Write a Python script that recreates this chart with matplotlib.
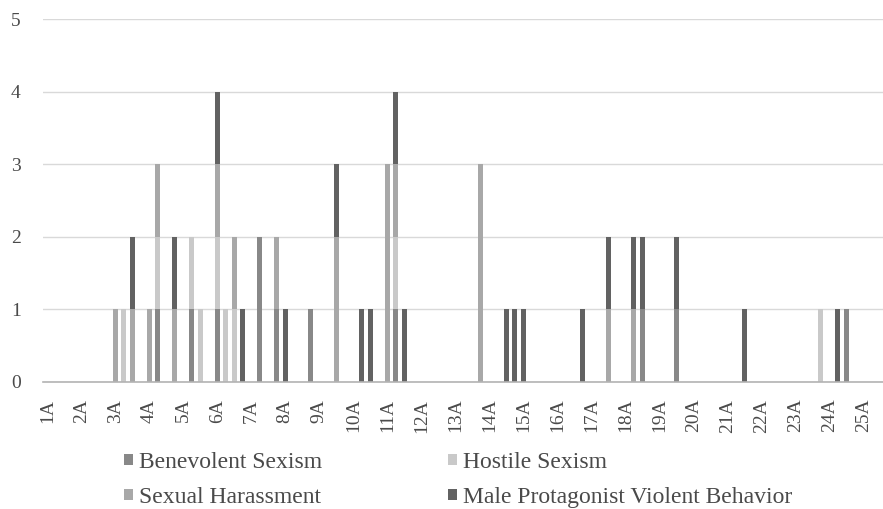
import numpy as np
import matplotlib
matplotlib.use('Agg')
import matplotlib.pyplot as plt
from matplotlib.patches import Patch

# --- Data: 25 episodes x 4 scenes (A-D), only every 4th label shown ---
episodes = list(range(1, 26))
scenes = ['A', 'B', 'C', 'D']
categories = [f'{e}{s}' for e in episodes for s in scenes]
shown_labels = [f'{e}A' for e in episodes]

benevolent = [0, 0, 0, 0, 0, 0, 0, 0, 0, 0, 0, 0, 0, 1, 0, 0, 0, 1, 0, 0,
              1, 0, 0, 0, 0, 2, 0, 1, 0, 0, 0, 1, 0, 0, 0, 0, 0, 0, 0, 0,
              0, 1, 0, 0, 0, 0, 0, 0, 0, 0, 0, 0, 0, 0, 0, 0, 0, 0, 0, 0,
              0, 0, 0, 0, 0, 0, 0, 0, 0, 0, 1, 0, 0, 0, 1, 0, 0, 0, 0, 0,
              0, 0, 0, 0, 0, 0, 0, 0, 0, 0, 0, 0, 0, 0, 1, 0, 0, 0, 0, 0]
hostile = [0, 0, 0, 0, 0, 0, 0, 0, 0, 1, 0, 0, 0, 1, 0, 0, 0, 1, 1, 0,
           1, 1, 1, 0, 0, 0, 0, 0, 0, 0, 0, 0, 0, 0, 0, 0, 0, 0, 0, 0,
           0, 1, 0, 0, 0, 0, 0, 0, 0, 0, 0, 0, 0, 0, 0, 0, 0, 0, 0, 0,
           0, 0, 0, 0, 0, 0, 0, 0, 0, 0, 0, 0, 0, 0, 0, 0, 0, 0, 0, 0,
           0, 0, 0, 0, 0, 0, 0, 0, 0, 0, 0, 1, 0, 0, 0, 0, 0, 0, 0, 0]
harassment = [0, 0, 0, 0, 0, 0, 0, 0, 1, 0, 1, 0, 1, 1, 0, 1, 0, 0, 0, 0,
              1, 0, 1, 0, 0, 0, 0, 1, 0, 0, 0, 0, 0, 0, 2, 0, 0, 0, 0, 0,
              3, 1, 0, 0, 0, 0, 0, 0, 0, 0, 0, 3, 0, 0, 0, 0, 0, 0, 0, 0,
              0, 0, 0, 0, 0, 0, 1, 0, 0, 1, 0, 0, 0, 0, 0, 0, 0, 0, 0, 0,
              0, 0, 0, 0, 0, 0, 0, 0, 0, 0, 0, 0, 0, 0, 0, 0, 0, 0, 0, 0]
violent = [0, 0, 0, 0, 0, 0, 0, 0, 0, 0, 1, 0, 0, 0, 0, 1, 0, 0, 0, 0,
           1, 0, 0, 1, 0, 0, 0, 0, 1, 0, 0, 0, 0, 0, 1, 0, 0, 1, 1, 0,
           0, 1, 1, 0, 0, 0, 0, 0, 0, 0, 0, 0, 0, 0, 1, 1, 1, 0, 0, 0,
           0, 0, 0, 1, 0, 0, 1, 0, 0, 1, 1, 0, 0, 0, 1, 0, 0, 0, 0, 0,
           0, 0, 1, 0, 0, 0, 0, 0, 0, 0, 0, 0, 0, 1, 0, 0, 0, 0, 0, 0]

series_names = ['Benevolent Sexism', 'Hostile Sexism', 'Sexual Harassment',
                'Male Protagonist Violent Behavior']
colors = ['#888888', '#c9c9c9', '#a8a8a8', '#626262']

plt.rcParams['font.family'] = ['Liberation Serif', 'DejaVu Serif']

fig = plt.figure(figsize=(8.83, 5.09), dpi=100)
ax = fig.add_axes([43 / 883, 1 - 382 / 509, 1 - 43 / 883, (382 - 19) / 509])

x = np.arange(len(categories))
bottom = np.zeros(len(categories))
for vals, col in zip([benevolent, hostile, harassment, violent], colors):
    ax.bar(x, vals, width=0.62, bottom=bottom, color=col, linewidth=0, zorder=3)
    bottom += np.array(vals)

ax.set_xlim(-0.5, (883 - 43) / 8.5 - 0.5)
ax.set_ylim(0, 5)
ax.set_yticks(range(0, 6))
ax.set_xticks(x[::4])
ax.set_xticklabels(shown_labels, rotation=90)
ax.tick_params(axis='x', length=0, pad=12, labelsize=14, colors='#4a4a4a')
ax.tick_params(axis='y', length=0, pad=16, labelsize=14, colors='#4a4a4a')
ax.grid(axis='y', color='#d9d9d9', linewidth=1, zorder=0)
for s in ['top', 'right', 'left']:
    ax.spines[s].set_visible(False)
ax.spines['bottom'].set_color('#b3b3b3')
ax.spines['bottom'].set_linewidth(1.2)
ax.spines['bottom'].set_zorder(4)

# legend filled row-wise: B, H / SH, V
handles = [Patch(facecolor=c, edgecolor='none') for c in colors]
order = [0, 2, 1, 3]
fig.legend([handles[i] for i in order], [series_names[i] for i in order],
           ncol=2, loc='upper left', bbox_to_anchor=(112 / 883, 1 - 440 / 509),
           frameon=False, fontsize=17, handlelength=0.38, handleheight=0.38,
           handletextpad=0.25, columnspacing=5.35, labelspacing=0.6,
           borderpad=0, labelcolor='#4a4a4a')

fig.savefig('out.png', dpi=100)
